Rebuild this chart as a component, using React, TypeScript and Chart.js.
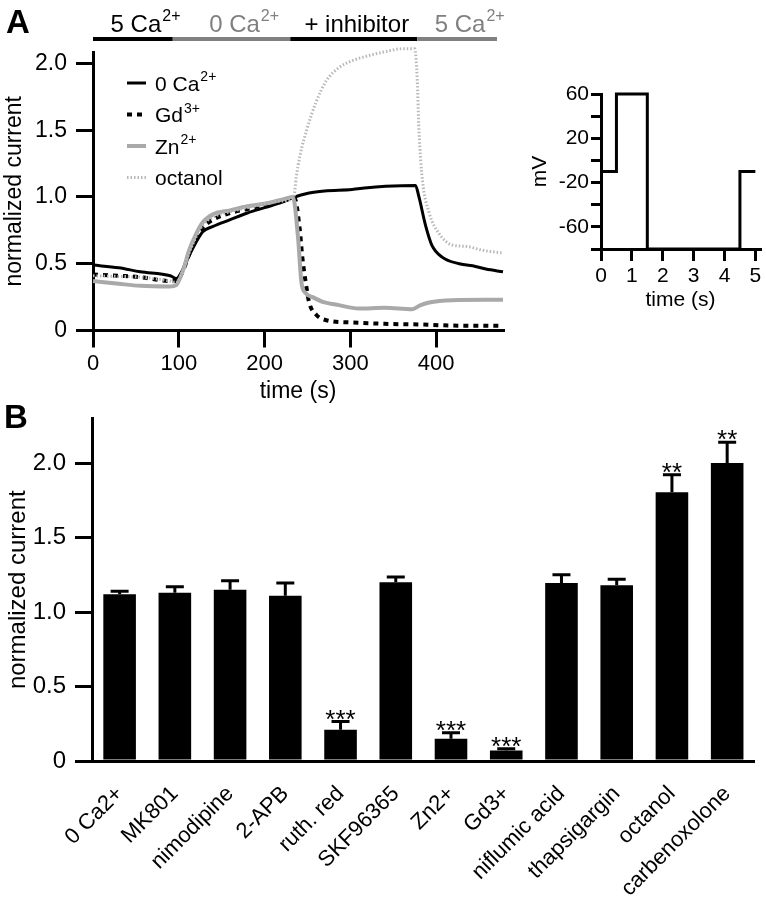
import React, { useEffect, useRef } from 'react';
import { Chart, registerables } from 'chart.js';
Chart.register(...registerables);

const FONT = "'Liberation Sans', Arial, Helvetica, sans-serif";

// ---------------- Panel A data ----------------
const PHASE_TIMES = [0, 93, 230, 378, 471];
const PHASE_TEXT = ['5 Ca', '0 Ca', '+ inhibitor', '5 Ca'];
const PHASE_SUP = ['2+', '2+', '', '2+'];

const SERIES_NAMES = ['0 Ca', 'Gd', 'Zn', 'octanol'];
const SERIES_SUP = ['2+', '3+', '2+', ''];

const CA0_T = [0, 30, 55, 90, 97, 105, 112, 120, 128, 140, 160, 180, 200, 220, 235, 252, 270, 302, 320, 341, 360, 376, 380, 388, 395, 407, 427, 446, 458, 478];
const CA0_V = [0.49, 0.47, 0.44, 0.41, 0.39, 0.46, 0.56, 0.66, 0.74, 0.78, 0.83, 0.88, 0.92, 0.96, 1.0, 1.03, 1.045, 1.056, 1.07, 1.08, 1.085, 1.086, 1.0, 0.78, 0.64, 0.55, 0.5, 0.48, 0.46, 0.44];

const GD_T = [0, 30, 55, 90, 97, 105, 112, 120, 128, 140, 160, 180, 200, 220, 235, 241, 244, 248, 252, 260, 272, 302, 340, 380, 420, 478];
const GD_V = [0.42, 0.41, 0.4, 0.37, 0.37, 0.45, 0.57, 0.68, 0.77, 0.83, 0.88, 0.91, 0.94, 0.97, 0.99, 0.76, 0.55, 0.36, 0.21, 0.12, 0.077, 0.06, 0.05, 0.045, 0.037, 0.035];

const ZN_T = [0, 30, 55, 90, 97, 105, 112, 120, 128, 140, 160, 180, 200, 220, 233, 239, 243, 248, 256, 270, 283, 310, 340, 372, 382, 392, 419, 458, 478];
const ZN_V = [0.37, 0.35, 0.335, 0.33, 0.34, 0.45, 0.6, 0.72, 0.81, 0.87, 0.9, 0.93, 0.95, 0.98, 1.0, 0.7, 0.36, 0.28, 0.25, 0.21, 0.195, 0.165, 0.17, 0.16, 0.19, 0.21, 0.227, 0.23, 0.23];

const OCT_T = [0, 30, 55, 90, 97, 105, 112, 120, 128, 140, 160, 180, 200, 220, 234, 237, 241, 249, 260, 272, 287, 302, 322, 342, 360, 375, 378, 380, 384, 392, 403, 419, 435, 455, 478];
const OCT_V = [0.41, 0.405, 0.4, 0.37, 0.36, 0.45, 0.58, 0.7, 0.79, 0.85, 0.89, 0.92, 0.95, 0.97, 1.0, 1.15, 1.3, 1.5, 1.71, 1.87, 1.97, 2.02, 2.06, 2.09, 2.11, 2.11, 1.88, 1.5, 1.13, 0.88, 0.73, 0.64, 0.63, 0.6, 0.58];

const A_X_TICKS = [0, 100, 200, 300, 400];
const A_Y_TICKS = [0, 0.5, 1, 1.5, 2];

// ---------------- Inset data ----------------
const STEP_T = [0, 0.5, 1.5, 4.5, 5.0];
const STEP_MV = [-10, 60, -80, -10, -10];
const INSET_X_TICKS = [0, 1, 2, 3, 4, 5];
const INSET_Y_TICKS = [-80, -60, -40, -20, 0, 20, 40, 60];
const INSET_Y_LABELED = [60, 20, -20, -60];

// ---------------- Panel B data ----------------
const BAR_LABELS = ['0 Ca2+', 'MK801', 'nimodipine', '2-APB', 'ruth. red', 'SKF96365', 'Zn2+', 'Gd3+', 'niflumic acid', 'thapsigargin', 'octanol', 'carbenoxolone'];
const BAR_VALUES = [1.12, 1.13, 1.15, 1.11, 0.21, 1.2, 0.15, 0.07, 1.195, 1.18, 1.805, 2.0];
const BAR_ERRORS = [0.02, 0.04, 0.06, 0.085, 0.055, 0.035, 0.04, 0.012, 0.055, 0.04, 0.117, 0.14];
const BAR_SIG = ['', '', '', '', '***', '', '***', '***', '', '', '**', '**'];
const B_Y_TICKS = [0, 0.5, 1, 1.5, 2];

// ---------------- styles ----------------
const PHASE_COLORS = ['#000000', '#808080', '#000000', '#808080'];
const SERIES_STYLE = [
  { color: '#000000', width: 3, dash: [] as number[] },
  { color: '#000000', width: 4, dash: [5, 5] },
  { color: '#a9a9a9', width: 4, dash: [] as number[] },
  { color: '#b8b8b8', width: 3, dash: [1.5, 2] },
];

const toXY = (t: number[], v: number[]) => t.map((x, i) => ({ x, y: v[i] }));
const fmt = (v: number) => (v === 0 ? '0' : v.toFixed(1));

// draws base text + superscript; x is the centre (align 'center', centred on base text) or left edge
function drawSup(ctx: CanvasRenderingContext2D, x: number, y: number, base: string, sup: string, size: number, supSize: number, color: string, align: string) {
  ctx.font = `${size}px ${FONT}`;
  const w1 = ctx.measureText(base).width;
  const x0 = align === 'center' ? x - w1 / 2 : x;
  ctx.fillStyle = color;
  ctx.textAlign = 'left';
  ctx.textBaseline = 'alphabetic';
  ctx.fillText(base, x0, y);
  if (sup) {
    ctx.font = `${supSize}px ${FONT}`;
    ctx.fillText(sup, x0 + w1 + 1, y - size * 0.45);
  }
}

const axisCommon = (tickLen: number) => ({
  grid: { drawOnChartArea: false, drawTicks: true, tickLength: tickLen, lineWidth: 3, color: '#000' },
  border: { display: true, color: '#000', width: 3 },
});

const aDecor = {
  id: 'aDecor',
  afterDraw(chart: any) {
    const { ctx, chartArea } = chart;
    const xs = chart.scales.x;
    ctx.save();
    ctx.font = `bold 33px ${FONT}`;
    ctx.fillStyle = '#000';
    ctx.textAlign = 'left';
    ctx.textBaseline = 'alphabetic';
    ctx.fillText('A', 6, 33);
    ctx.lineCap = 'butt';
    for (let i = 0; i < PHASE_TEXT.length; i++) {
      const x0 = xs.getPixelForValue(PHASE_TIMES[i]);
      const x1 = xs.getPixelForValue(PHASE_TIMES[i + 1]);
      ctx.strokeStyle = PHASE_COLORS[i];
      ctx.lineWidth = 4;
      ctx.setLineDash([]);
      ctx.beginPath();
      ctx.moveTo(x0, 39);
      ctx.lineTo(x1, 39);
      ctx.stroke();
      drawSup(ctx, (x0 + x1) / 2 + 3, 32, PHASE_TEXT[i], PHASE_SUP[i], 24, 16, PHASE_COLORS[i], 'center');
    }
    for (let i = 0; i < SERIES_NAMES.length; i++) {
      const y = chartArea.top + 31 + i * 31.5;
      const st = SERIES_STYLE[i];
      ctx.strokeStyle = st.color;
      ctx.lineWidth = st.width;
      ctx.setLineDash(st.dash);
      ctx.beginPath();
      ctx.moveTo(chartArea.left + 34, y);
      ctx.lineTo(chartArea.left + 53, y);
      ctx.stroke();
      ctx.setLineDash([]);
      drawSup(ctx, chartArea.left + 62, y + 7.5, SERIES_NAMES[i], SERIES_SUP[i], 21, 14, '#000', 'left');
    }
    ctx.restore();
  },
};

const bDecor = {
  id: 'bDecor',
  afterDatasetsDraw(chart: any) {
    const { ctx } = chart;
    const ys = chart.scales.y;
    const meta = chart.getDatasetMeta(0);
    ctx.save();
    ctx.font = `bold 33px ${FONT}`;
    ctx.fillStyle = '#000';
    ctx.textAlign = 'left';
    ctx.textBaseline = 'alphabetic';
    ctx.fillText('B', 4, 33);
    ctx.strokeStyle = '#000';
    ctx.lineWidth = 3;
    ctx.lineCap = 'butt';
    meta.data.forEach((bar: any, i: number) => {
      const top = ys.getPixelForValue(BAR_VALUES[i]);
      const et = ys.getPixelForValue(BAR_VALUES[i] + BAR_ERRORS[i]);
      ctx.beginPath();
      ctx.moveTo(bar.x, top);
      ctx.lineTo(bar.x, et);
      ctx.moveTo(bar.x - 9, et);
      ctx.lineTo(bar.x + 9, et);
      ctx.stroke();
      if (BAR_SIG[i]) {
        ctx.font = `26px ${FONT}`;
        ctx.textAlign = 'center';
        ctx.fillText(BAR_SIG[i], bar.x, et + 6);
      }
    });
    ctx.restore();
  },
};

function lineDs(t: number[], v: number[], i: number) {
  const st = SERIES_STYLE[i];
  return {
    data: toXY(t, v),
    borderColor: st.color,
    borderWidth: st.width,
    borderDash: st.dash,
    pointRadius: 0,
    cubicInterpolationMode: 'monotone',
    clip: false,
    fill: false,
  };
}

const A_H = 410;
const A_W = 515;

function configA(): any {
  return {
    type: 'line',
    data: {
      datasets: [
        lineDs(OCT_T, OCT_V, 3),
        lineDs(ZN_T, ZN_V, 2),
        lineDs(GD_T, GD_V, 1),
        lineDs(CA0_T, CA0_V, 0),
      ],
    },
    options: {
      responsive: false,
      animation: false,
      devicePixelRatio: 1,
      layout: { padding: { top: 52, right: 12, left: 0, bottom: 0 } },
      plugins: { legend: { display: false }, tooltip: { enabled: false } },
      scales: {
        x: {
          type: 'linear',
          min: 0,
          max: 478,
          afterFit: (s: any) => { s.height = A_H - 330.5; },
          afterBuildTicks: (s: any) => { s.ticks = A_X_TICKS.map((value) => ({ value })); },
          ticks: { font: { family: FONT, size: 22 }, color: '#000', padding: 3, maxRotation: 0, autoSkip: false },
          title: { display: true, text: 'time (s)', font: { family: FONT, size: 23 }, color: '#000', padding: { top: 0, bottom: 5 } },
          ...axisCommon(17),
        },
        y: {
          min: 0,
          max: 2.086,
          afterFit: (s: any) => { s.width = 93; },
          afterBuildTicks: (s: any) => { s.ticks = A_Y_TICKS.map((value) => ({ value })); },
          ticks: { font: { family: FONT, size: 23 }, color: '#000', padding: 9, autoSkip: false, callback: (v: number) => fmt(v) },
          title: { display: true, text: 'normalized current', font: { family: FONT, size: 23 }, color: '#000', padding: { top: 1, bottom: 0 } },
          ...axisCommon(17),
        },
      },
    },
    plugins: [aDecor],
  };
}

function configInset(): any {
  return {
    type: 'line',
    data: {
      datasets: [
        {
          data: toXY(STEP_T, STEP_MV),
          borderColor: '#000',
          borderWidth: 3,
          pointRadius: 0,
          stepped: 'before',
          clip: false,
        },
      ],
    },
    options: {
      responsive: false,
      animation: false,
      devicePixelRatio: 1,
      layout: { padding: { top: 34, right: 6, left: 0, bottom: 0 } },
      plugins: { legend: { display: false }, tooltip: { enabled: false } },
      scales: {
        x: {
          type: 'linear',
          min: 0,
          max: 5.15,
          afterFit: (s: any) => { s.height = 257 - 189; },
          afterBuildTicks: (s: any) => { s.ticks = INSET_X_TICKS.map((value) => ({ value })); },
          ticks: { font: { family: FONT, size: 21 }, color: '#000', padding: 3, maxRotation: 0, autoSkip: false },
          title: { display: true, text: 'time (s)', font: { family: FONT, size: 21 }, color: '#000', padding: { top: 0, bottom: 4 } },
          ...axisCommon(12),
        },
        y: {
          min: -80,
          max: 60,
          afterFit: (s: any) => { s.width = 86; },
          afterBuildTicks: (s: any) => { s.ticks = INSET_Y_TICKS.map((value) => ({ value })); },
          ticks: {
            font: { family: FONT, size: 21 },
            color: '#000',
            padding: 2,
            autoSkip: false,
            callback: (v: any) => (INSET_Y_LABELED.includes(Number(v)) ? String(v) : ''),
          },
          title: { display: true, text: 'mV', font: { family: FONT, size: 21 }, color: '#000', padding: { top: 13, bottom: 0 } },
          ...axisCommon(10),
        },
      },
    },
  };
}

const B_H = 504;

function configB(): any {
  return {
    type: 'bar',
    data: {
      labels: BAR_LABELS,
      datasets: [
        {
          data: BAR_VALUES,
          backgroundColor: '#000',
          borderWidth: 0,
          categoryPercentage: 1,
          barPercentage: 0.59,
        },
      ],
    },
    options: {
      responsive: false,
      animation: false,
      devicePixelRatio: 1,
      layout: { padding: { top: 21, right: 4, left: 0, bottom: 0 } },
      plugins: { legend: { display: false }, tooltip: { enabled: false } },
      scales: {
        x: {
          afterFit: (s: any) => { s.height = B_H - 366; },
          ticks: { font: { family: FONT, size: 22 }, color: '#000', padding: 20, minRotation: 45, maxRotation: 45, autoSkip: false },
          grid: { display: false, drawTicks: false },
          border: { display: true, color: '#000', width: 3 },
        },
        y: {
          min: 0,
          max: 2.3,
          afterFit: (s: any) => { s.width = 92; },
          afterBuildTicks: (s: any) => { s.ticks = B_Y_TICKS.map((value) => ({ value })); },
          ticks: { font: { family: FONT, size: 24 }, color: '#000', padding: 9, autoSkip: false, callback: (v: number) => fmt(v) },
          title: { display: true, text: 'normalized current', font: { family: FONT, size: 24 }, color: '#000', padding: { top: 4, bottom: 0 } },
          ...axisCommon(17),
        },
      },
    },
    plugins: [bDecor],
  };
}

export default function App() {
  const aRef = useRef<HTMLCanvasElement>(null);
  const iRef = useRef<HTMLCanvasElement>(null);
  const bRef = useRef<HTMLCanvasElement>(null);

  useEffect(() => {
    const charts: Chart[] = [];
    if (aRef.current) charts.push(new Chart(aRef.current, configA()));
    if (iRef.current) charts.push(new Chart(iRef.current, configInset()));
    if (bRef.current) charts.push(new Chart(bRef.current, configB()));
    return () => charts.forEach((c) => c.destroy());
  }, []);

  const abs = (left: number, top: number, w: number, h: number): React.CSSProperties => ({
    position: 'absolute', left, top, width: w, height: h, display: 'block',
  });

  return (
    <div style={{ position: 'absolute', left: 0, top: 0, width: 766, height: 899, background: '#fff', overflow: 'hidden' }}>
      <canvas ref={bRef} width={766} height={B_H} style={abs(0, 395, 766, B_H)} />
      <canvas ref={aRef} width={A_W} height={A_H} style={abs(0, 0, A_W, A_H)} />
      <canvas ref={iRef} width={251} height={257} style={abs(515, 60, 251, 257)} />
    </div>
  );
}
